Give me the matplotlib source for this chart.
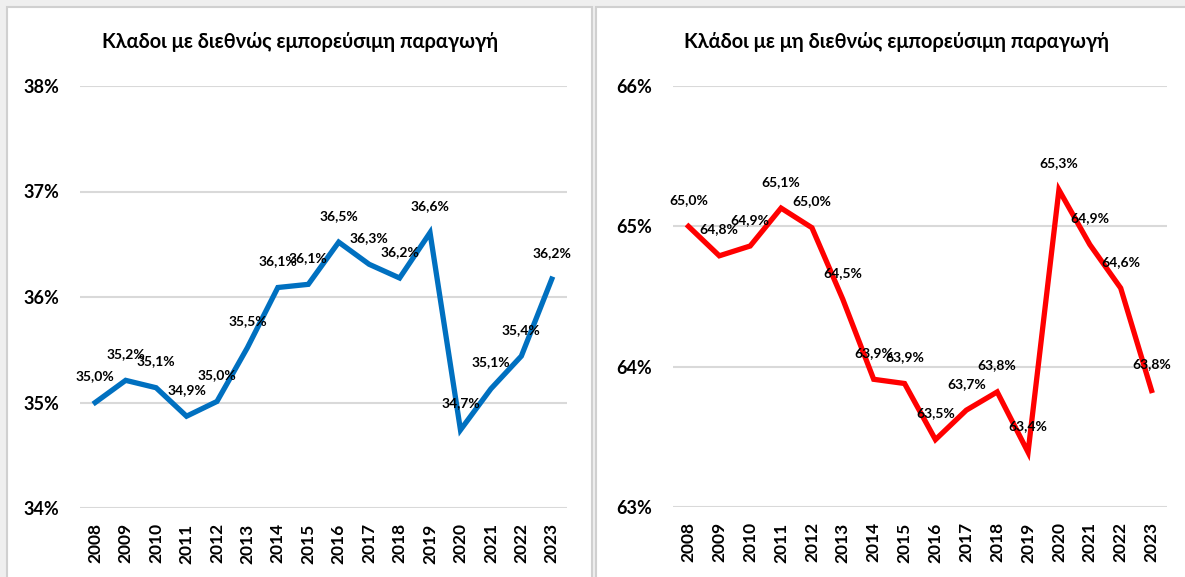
import matplotlib
matplotlib.use("Agg")
import matplotlib.pyplot as plt
from matplotlib.patches import Rectangle

years = [str(y) for y in range(2008, 2024)]
tradable = [35.00, 35.21, 35.14, 34.87, 35.01, 35.52, 36.09, 36.12, 36.52, 36.31, 36.18, 36.61, 34.74, 35.13, 35.44, 36.17]
nontradable = [65.00, 64.79, 64.86, 65.13, 64.99, 64.48, 63.91, 63.88, 63.48, 63.69, 63.82, 63.39, 65.26, 64.87, 64.56, 63.83]
title_left = "Κλαδοι με διεθνώς εμπορεύσιμη παραγωγή"
title_right = "Κλάδοι με μη διεθνώς εμπορεύσιμη παραγωγή"
yticks_left = [34, 35, 36, 37, 38]
yticks_right = [63, 64, 65, 66]

W, H = 1185, 577
fig = plt.figure(figsize=(W / 100, H / 100), dpi=100)
fig.patch.set_facecolor("#efefef")

FONT = ["Lato", "Open Sans", "DejaVu Sans"]

def px(x0, y0, x1, y1):
    return [x0 / W, 1 - y1 / H, (x1 - x0) / W, (y1 - y0) / H]

# panel backgrounds
for (x0, x1) in [(7, 592), (596, 1190)]:
    fig.patches.append(Rectangle((x0 / W, -0.05), (x1 - x0) / W, 1.05 - 7 / H,
                                 transform=fig.transFigure, facecolor="white",
                                 edgecolor="#d0d0d0", linewidth=1.5, zorder=-5))

def panel(rect, values, color, yticks, title, title_x):
    ax = fig.add_axes(rect)
    ax.set_zorder(2)
    x = list(range(len(values)))
    ax.plot(x, values, color=color, linewidth=3.8, solid_joinstyle="miter", zorder=3)
    ax.set_xlim(-0.5, len(values) - 0.5)
    ax.set_ylim(yticks[0], yticks[-1])
    ax.set_yticks(yticks)
    ax.set_yticklabels([f"{t}%" for t in yticks], fontsize=13, fontweight="bold", family=FONT)
    ax.set_xticks(x)
    ax.set_xticklabels(years, rotation=90, fontsize=12.5, fontweight="bold", family=FONT)
    ax.tick_params(axis="y", length=0, pad=15)
    ax.tick_params(axis="x", length=0, pad=11)
    ax.grid(axis="y", color="#d9d9d9", linewidth=1.5)
    ax.set_axisbelow(True)
    for s in ax.spines.values():
        s.set_visible(False)
    ax.patch.set_alpha(0)
    for xi, v in zip(x, values):
        ax.annotate(f"{v:.1f}%".replace(".", ","), (xi, v), xytext=(0, 19),
                    textcoords="offset points", ha="center", va="center",
                    fontsize=10, fontweight="bold", family=FONT, zorder=4)
    fig.text(title_x / W, 1 - 42 / H, title, ha="center", va="center",
             fontsize=14.4, fontweight="bold", family=FONT, zorder=3)
    return ax

panel(px(80, 86, 567, 508), tradable, "#0070C0", yticks_left, title_left, 300)
panel(px(673, 86, 1167, 507), nontradable, "#FF0000", yticks_right, title_right, 897)

fig.savefig("out.png", dpi=100, facecolor=fig.get_facecolor())
